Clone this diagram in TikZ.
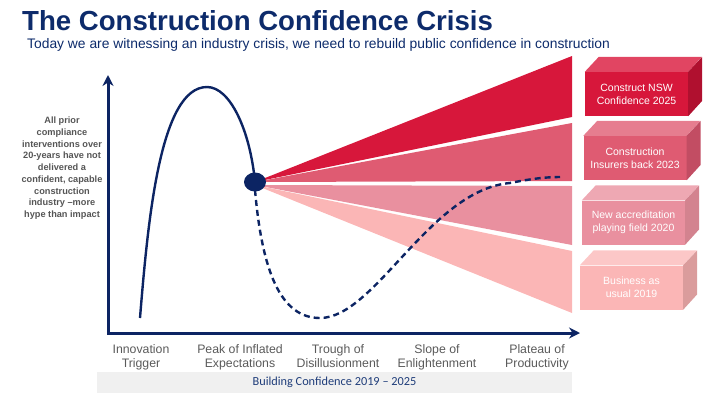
\documentclass[tikz,border=0pt]{standalone}
\usepackage{fontspec}
\setmainfont{Liberation Sans}
\newfontfamily\bandfont{Carlito}
\usepackage{tikz}
\usetikzlibrary{calc}
\usetikzlibrary{arrows.meta}
\usetikzlibrary{shapes.geometric}
\definecolor{navy}{HTML}{0C2463}
\definecolor{titleblue}{HTML}{0D2B6B}
\definecolor{labelgray}{HTML}{5A5A5A}
\definecolor{notegray}{HTML}{555555}
\definecolor{bandgray}{HTML}{F0F0F0}
\definecolor{bandblue}{HTML}{1F3D7A}
\definecolor{wedgeA}{HTML}{D7173B}
\definecolor{wedgeB}{HTML}{DF5B72}
\definecolor{wedgeC}{HTML}{E9909F}
\definecolor{wedgeD}{HTML}{FBB6B6}
\definecolor{boxAfront}{HTML}{D7173B}
\definecolor{boxAtop}{HTML}{E14562}
\definecolor{boxAside}{HTML}{B0102F}
\definecolor{boxBfront}{HTML}{DF5B72}
\definecolor{boxBtop}{HTML}{E67D8F}
\definecolor{boxBside}{HTML}{C24D63}
\definecolor{boxCfront}{HTML}{E9909F}
\definecolor{boxCtop}{HTML}{EEA8B3}
\definecolor{boxCside}{HTML}{D3838F}
\definecolor{boxDfront}{HTML}{FBB6B6}
\definecolor{boxDtop}{HTML}{FCC7C7}
\definecolor{boxDside}{HTML}{DA9C9C}
\tikzset{
  myaxis/.style={
    draw=navy,
    line width=3pt,
    {Stealth[length=11pt,width=11pt]}-{Stealth[length=11pt,width=11pt]},
  },
  hypeline/.style={
    draw=navy,
    line width=2.4pt,
  },
  hypedash/.style={
    draw=navy,
    line width=2.4pt,
    dash pattern=on 6pt off 4pt,
  },
  mydot/.style={
    ellipse,
    fill=navy,
    minimum width=22pt,
    minimum height=19pt,
    inner sep=0pt,
  },
  stagelabel/.style={
    align=center,
    anchor=north,
    inner sep=0pt,
    text=labelgray,
    font=\fontsize{12.3}{14}\selectfont
  },
  sidenote/.style={
    align=center,
    anchor=north,
    inner sep=0pt,
    text=notegray,
    font=\bfseries\fontsize{9.2}{11.7}\selectfont
  },
  boxface/.style={
    shape=rectangle,
    minimum width=103pt,
    minimum height=44pt,
    inner sep=0pt,
    align=center,
    text=white,
    font=\fontsize{10.5}{13}\selectfont
  },
  myband/.style={
    fill=bandgray,
    minimum width=475pt,
    minimum height=21pt,
    inner sep=0pt,
    text=bandblue,
    font=\bandfont\fontsize{12.3}{14}\selectfont
  },
}

\begin{document}
\begin{tikzpicture}[x=1pt,y=-1pt]
    \useasboundingbox (0,0) rectangle (706,397);

    \node [anchor=base west, inner sep=0pt, text=titleblue, font=\bfseries\fontsize{27.6}{30}\selectfont] (title) at (22,30) {The Construction Confidence Crisis};
    \node [anchor=base west, inner sep=0pt, text=titleblue, font=\fontsize{13.85}{16}\selectfont] (subtitle) at (27,48) {Today we are witnessing an industry crisis, we need to rebuild public confidence in construction};

    \node [myband] (band) at (334.5,382.5) {Building Confidence 2019 – 2025};

    % fan of outcomes
    \coordinate (peakdot) at (255,182);
    \fill [wedgeA] (peakdot) -- (572,56) -- (572,117) -- cycle;
    \fill [wedgeB] (peakdot) -- (572,123) -- (572,181) -- cycle;
    \fill [wedgeC] ($(peakdot)+(0,3)$) -- (572,186) -- (572,245) -- cycle;
    \fill [wedgeD] ($(peakdot)+(0,3)$) -- (572,251) -- (572,313) -- cycle;

    \coordinate (ytip) at (108,75);
    \coordinate (origin) at (108,333);
    \coordinate (xtip) at (580,333);
    \draw [myaxis] (ytip) -- (origin) -- (xtip);

    \coordinate (start) at (140,318);
    \coordinate (peak) at (207,87);
    \coordinate (trough) at (320,318);
    \coordinate (slope) at (510,183);
    \coordinate (plateau) at (560,177);
    \draw [hypeline] (start) .. controls (148,220) and (160,87) .. (peak)
        .. controls (230,87) and (250,130) .. (peakdot);
    \draw [hypedash] ($(peakdot)+(0,8)$) .. controls (262,270) and (280,318) .. (trough)
        .. controls (375,318) and (430,190) .. (slope)
        .. controls (530,179) and (545,177) .. (plateau);

    \node [mydot] (dot) at (peakdot) {};

    \foreach \i/\xx/\yy/\cf/\ct/\cs/\txt in {
        1/636.5/94/boxAfront/boxAtop/boxAside/{Construct NSW\\Confidence 2025},
        2/635/158/boxBfront/boxBtop/boxBside/{Construction\\Insurers back 2023},
        3/633.5/222.5/boxCfront/boxCtop/boxCside/{New accreditation\\playing field 2020},
        4/631.5/287.5/boxDfront/boxDtop/boxDside/{Business as\\usual 2019}} {
      \node [boxface, fill=\cf] (box\i) at (\xx,\yy) {\txt};
      \fill [\ct] (box\i.north west) -- ++(14,-15) -- ++(103,0) -- (box\i.north east) -- cycle;
      \fill [\cs] (box\i.north east) -- ++(14,-15) -- ++(0,44) -- (box\i.south east) -- cycle;
    }

    \node [sidenote] (note) at (62,117) {All prior\\compliance\\interventions over\\20-years have not\\delivered a\\confident, capable\\construction\\industry –more\\hype than impact};

    \node [stagelabel] (trigger) at (141,344) {Innovation\\Trigger};
    \node [stagelabel] (inflated) at (240,344) {Peak of Inflated\\Expectations};
    \node [stagelabel] (disill) at (338,344) {Trough of\\Disillusionment};
    \node [stagelabel] (enlight) at (437,344) {Slope of\\Enlightenment};
    \node [stagelabel] (product) at (537,344) {Plateau of\\Productivity};

  \end{tikzpicture}
\end{document}
